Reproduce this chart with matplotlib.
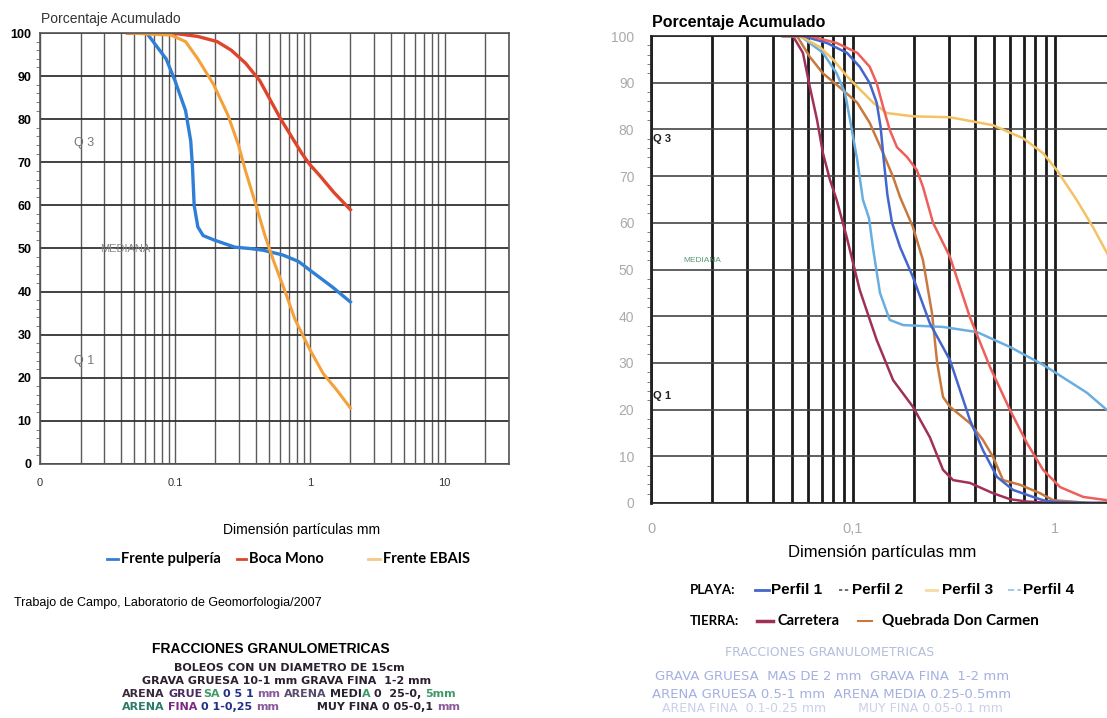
import matplotlib
matplotlib.use("Agg")
import matplotlib.pyplot as plt
from matplotlib.lines import Line2D
from matplotlib.ticker import LogLocator, MultipleLocator, NullFormatter

plt.rcParams['font.family'] = ['Liberation Sans', 'DejaVu Sans']

W, H = 1107, 718

# left chart: Frente pulperia / Boca Mono / Frente EBAIS  (mm, % acumulado)
pulperia_mm = [0.0457, 0.0618, 0.0861, 0.1, 0.120, 0.131, 0.135, 0.139, 0.148, 0.162, 0.194, 0.279, 0.36, 0.451, 0.63, 0.824, 1.0, 1.48, 2.0]
pulperia_pct = [100, 100, 94, 89, 82, 75, 69, 60, 55, 53, 52, 50.3, 50, 49.6, 48.5, 47, 45, 41, 37.6]
boca_mm = [0.0444, 0.106, 0.148, 0.206, 0.262, 0.334, 0.425, 0.509, 0.610, 0.731, 0.876, 1.0, 1.18, 1.51, 2.0]
boca_pct = [100, 99.8, 99.2, 98, 96, 93, 89, 84.5, 80, 76, 72, 69.5, 67, 63, 59]
ebais_mm = [0.0444, 0.094, 0.120, 0.148, 0.194, 0.247, 0.296, 0.334, 0.400, 0.465, 0.541, 0.648, 0.776, 1.0, 1.257, 1.60, 2.0]
ebais_pct = [100, 99.5, 98, 94, 88, 81, 74, 68, 60, 53, 47, 40.5, 33.6, 26.6, 21, 17, 13]

# right chart: playa perfiles + tierra
perfil1_mm = [0.045, 0.0565, 0.0743, 0.0933, 0.108, 0.121, 0.131, 0.137, 0.142, 0.148, 0.156, 0.171, 0.198, 0.240, 0.302, 0.379, 0.440, 0.516, 0.62, 0.778, 0.873, 1.0, 1.5, 2.0]
perfil1_pct = [100, 100, 98.5, 96.4, 93.4, 89.9, 85.7, 80.5, 73.4, 66, 60, 54.8, 48.4, 38.5, 30.6, 17.8, 11.3, 5.6, 2.8, 1.3, 0.6, 0.2, 0, 0]
perfil2_mm = [0.045, 0.0612, 0.083, 0.105, 0.121, 0.131, 0.141, 0.152, 0.165, 0.185, 0.207, 0.222, 0.249, 0.302, 0.379, 0.477, 0.599, 0.727, 0.873, 1.06, 1.38, 1.81, 2.2]
perfil2_pct = [100, 100, 98.5, 96.4, 93.4, 89.9, 84.8, 79.9, 76.2, 74.1, 71.3, 67.7, 60, 52.7, 39.8, 29.1, 19.9, 12.8, 7.1, 3.4, 1.3, 0.6, 0.3]
perfil3_mm = [0.045, 0.0548, 0.0687, 0.080, 0.0933, 0.108, 0.126, 0.147, 0.198, 0.302, 0.493, 0.695, 0.873, 1.02, 1.28, 1.54, 1.81, 2.0]
perfil3_pct = [100, 100, 97.6, 94.9, 91.4, 88.6, 85.7, 83.5, 82.8, 82.6, 80.9, 78.1, 74.9, 71.3, 64.9, 59.1, 53.5, 50]
perfil4_mm = [0.045, 0.0548, 0.071, 0.083, 0.0913, 0.0967, 0.105, 0.112, 0.120, 0.126, 0.136, 0.152, 0.177, 0.279, 0.411, 0.599, 0.873, 1.15, 1.44, 1.81, 2.0]
perfil4_pct = [100, 100, 96.4, 92, 87.8, 82, 73.4, 64.9, 61, 54.2, 45, 39.2, 38.1, 37.7, 36.6, 33.4, 29.6, 26.3, 23.6, 19.9, 18]
carretera_mm = [0.045, 0.0504, 0.0565, 0.0612, 0.0664, 0.071, 0.0769, 0.083, 0.093, 0.108, 0.131, 0.158, 0.198, 0.240, 0.279, 0.313, 0.379, 0.493, 0.6, 0.73, 1.0, 2.0]
carretera_pct = [100, 100, 96.4, 89, 82, 74.9, 69.2, 64.9, 57, 45.6, 34.9, 26.3, 20.6, 14.1, 7.1, 4.9, 4.3, 2.1, 0.8, 0.3, 0, 0]
quebrada_mm = [0.045, 0.0528, 0.0612, 0.071, 0.086, 0.105, 0.121, 0.141, 0.158, 0.171, 0.198, 0.222, 0.246, 0.261, 0.279, 0.302, 0.379, 0.440, 0.493, 0.553, 0.671, 0.843, 0.98, 1.5, 2.0]
quebrada_pct = [100, 100, 95.5, 92, 89, 85.7, 81.4, 74.9, 69.8, 65.5, 59.1, 52, 40.7, 30, 22.7, 20.6, 17.1, 13.5, 9.9, 4.9, 3.9, 2.1, 0.6, 0, 0]

y_ticks = [0, 10, 20, 30, 40, 50, 60, 70, 80, 90, 100]
left_xticks = [0.01, 0.1, 1, 10]
left_xlabels = ['0', '0.1', '1', '10']
right_xticks = [0.01, 0.1, 1]
right_xlabels = ['0', '0,1', '1']

c_pulperia, c_boca, c_ebais = '#2f7fd6', '#e0452b', '#f5a13a'
c_p1, c_p2, c_p3, c_p4 = '#4466cc', '#ee5f5b', '#f3c265', '#6aaee0'
c_carr, c_queb = '#a0305a', '#c8793f'

fig = plt.figure(figsize=(W / 100, H / 100), dpi=100)


def fx(x):
    return x / W


def fy(y):
    return 1 - y / H


def setup_log(ax, xmax, vcol, vlw, hcol, hlw):
    ax.set_xscale('log')
    ax.set_xlim(0.01, xmax)
    ax.set_ylim(0, 100)
    ax.xaxis.set_minor_locator(LogLocator(base=10, subs=range(2, 10), numticks=20))
    ax.xaxis.set_minor_formatter(NullFormatter())
    ax.set_yticks(y_ticks)
    ax.yaxis.set_minor_locator(MultipleLocator(2))
    ax.grid(True, which='both', axis='x', color=vcol, lw=vlw)
    ax.grid(True, which='major', axis='y', color=hcol, lw=hlw)
    ax.set_axisbelow(True)
    ax.tick_params(which='major', length=0)
    ax.tick_params(axis='x', which='minor', length=0)
    ax.tick_params(axis='y', which='minor', length=3, color='#666')


# ---------------- left chart
axL = fig.add_axes([fx(40), fy(464), 469 / W, 431 / H])
setup_log(axL, 30, '#5a5a5a', 1.0, '#333333', 1.3)
for s in axL.spines.values():
    s.set_color('#555555')
    s.set_lw(1.2)
axL.set_xticks(left_xticks)
axL.set_xticklabels(left_xlabels, fontsize=8, color='#333')
axL.set_yticklabels([str(v) for v in y_ticks], fontsize=9, fontweight='bold')
axL.tick_params(axis='x', pad=10)
axL.tick_params(axis='y', pad=6)
axL.plot(pulperia_mm, pulperia_pct, color=c_pulperia, lw=2.4)
axL.plot(boca_mm, boca_pct, color=c_boca, lw=2.4)
axL.plot(ebais_mm, ebais_pct, color=c_ebais, lw=2.2)
axL.text(0.0179, 74.5, 'Q 3', fontsize=9, color='#777', va='center')
axL.text(0.0427, 50, 'MEDIANA', fontsize=8, color='#888', va='center', ha='center')
axL.text(0.0179, 24, 'Q 1', fontsize=9, color='#777', va='center')
fig.text(fx(41), fy(19), 'Porcentaje Acumulado', fontsize=10, color='#333', va='center')

# ---------------- right chart (runs past the right edge of the picture)
axR = fig.add_axes([fx(651), fy(503), 606 / W, 467 / H])
setup_log(axR, 10, '#1a1a1a', 2.0, '#444444', 1.2)
for s in axR.spines.values():
    s.set_color('#222')
    s.set_lw(1.2)
axR.spines['left'].set_lw(2.0)
axR.set_xticks(right_xticks)
axR.set_xticklabels(right_xlabels, fontsize=10.5, color='#aaa')
axR.set_yticklabels([str(v) for v in y_ticks], fontsize=10, color='#aaa')
axR.tick_params(axis='x', pad=14)
axR.tick_params(axis='y', pad=12)
axR.plot(carretera_mm, carretera_pct, color=c_carr, lw=1.8)
axR.plot(quebrada_mm, quebrada_pct, color=c_queb, lw=1.8)
axR.plot(perfil4_mm, perfil4_pct, color=c_p4, lw=1.8)
axR.plot(perfil3_mm, perfil3_pct, color=c_p3, lw=1.8)
axR.plot(perfil1_mm, perfil1_pct, color=c_p1, lw=1.8)
axR.plot(perfil2_mm, perfil2_pct, color=c_p2, lw=1.8)
axR.text(0.0102, 78, 'Q 3', fontsize=8, fontweight='bold', color='#222', va='center')
axR.text(0.0102, 23, 'Q 1', fontsize=8, fontweight='bold', color='#222', va='center')
axR.text(0.018, 52, 'MEDIANA', fontsize=6, color='#5a9a70', va='center', ha='center')
fig.text(fx(652), fy(23), 'Porcentaje Acumulado', fontsize=11.5, fontweight='bold', va='center')


# ---------------- legends and notes
def legend_item(x0, x1, y, color, label, size, family=None, lw=2.0, gap=3, ls='-'):
    fig.add_artist(Line2D([fx(x0), fx(x1)], [fy(y), fy(y)], color=color, lw=lw, ls=ls))
    fig.text(fx(x1 + gap), fy(y), label, fontsize=size, fontweight='bold',
             va='center', ha='left', family=family)


def rich_line(cx, y, parts, size, family='DejaVu Sans'):
    r = fig.canvas.get_renderer()
    gap = 0.32 * size * 100 / 72
    objs = [fig.text(0, fy(y), s, color=c, fontsize=size, fontweight='bold', family=family,
                     va='center', ha='left') for s, c, sp in parts]
    widths = [t.get_window_extent(r).width for t in objs]
    total = sum(widths) + gap * sum(1 for p in parts[:-1] if p[2])
    x = cx - total / 2
    for t, w, p in zip(objs, widths, parts):
        t.set_x(fx(x))
        x += w + (gap if p[2] else 0)


fig.text(fx(302), fy(530), 'Dimensión partículas mm', fontsize=10, ha='center', va='center')
legend_item(107, 118, 559, c_pulperia, 'Frente pulpería', 10.5, family='Lato')
legend_item(237, 246, 559, c_boca, 'Boca Mono', 10.5, family='Lato')
legend_item(368, 380, 559, '#f7c88a', 'Frente EBAIS', 10.5, family='Lato')
fig.text(fx(14), fy(603), 'Trabajo de Campo, Laboratorio de Geomorfologia/2007', fontsize=9, va='center')
fig.text(fx(271), fy(649), 'FRACCIONES GRANULOMETRICAS', fontsize=10, fontweight='bold',
         ha='center', va='center')

dk, pu, gr, nv, tl = '#2a2030', '#4a2a60', '#3f9a6a', '#22308a', '#2a7a66'
rich_line(289, 668, [('BOLEOS CON UN DIAMETRO DE 15cm', dk, False)], 8)
rich_line(287, 681, [('GRAVA GRUESA 10-1 mm GRAVA FINA  1-2 mm', dk, False)], 8)
rich_line(289, 694, [('ARENA', '#3a2a40', True), ('GRUE', pu, False), ('SA', gr, True),
                     ('0 5 1', nv, True), ('mm', '#8a5a9a', True), ('ARENA', '#5a4a6a', True),
                     ('MEDI', dk, False), ('A', gr, True), ('0  25-0,', dk, True), ('5mm', gr, False)], 8)
rich_line(291, 707, [('ARENA', tl, True), ('FINA', '#7a2a80', True), ('0 1-0,25', nv, True),
                     ('mm', '#8a5a9a', True), ('         MUY FINA 0 05-0,1', dk, True),
                     ('mm', '#8a5a9a', False)], 8)

fig.text(fx(882), fy(552), 'Dimensión partículas mm', fontsize=12, ha='center', va='center')
fig.text(fx(690), fy(590), 'PLAYA:', fontsize=9.5, fontweight='bold', va='center', family='Lato')
legend_item(755, 769, 590, c_p1, 'Perfil 1', 11, lw=2.0, gap=2)
legend_item(839, 850, 590, '#555', 'Perfil 2', 11, lw=1.2, gap=2, ls=(0, (2, 1.5)))
legend_item(926, 937, 590, '#f6dca0', 'Perfil 3', 11, lw=2.0, gap=5)
legend_item(1008, 1021, 590, '#a8c8e8', 'Perfil 4', 11, lw=1.5, gap=2, ls=(0, (3, 1.5)))
fig.text(fx(690), fy(621), 'TIERRA:', fontsize=9.5, fontweight='bold', va='center', family='Lato')
legend_item(757, 773, 621, c_carr, 'Carretera', 10.5, family='Lato', lw=2.5, gap=5)
legend_item(858, 872, 621, c_queb, 'Quebrada Don Carmen', 11, family='Lato', lw=1.5, gap=10)

fig.text(fx(830), fy(653), 'FRACCIONES GRANULOMETRICAS', fontsize=9, color='#b4bedc',
         ha='center', va='center', family='DejaVu Sans')
fig.text(fx(832), fy(677), 'GRAVA GRUESA  MAS DE 2 mm  GRAVA FINA  1-2 mm', fontsize=9.5,
         color='#a4b0e0', ha='center', va='center', family='DejaVu Sans')
fig.text(fx(832), fy(695), 'ARENA GRUESA 0.5-1 mm  ARENA MEDIA 0.25-0.5mm', fontsize=9.5,
         color='#a4b0e0', ha='center', va='center', family='DejaVu Sans')
fig.text(fx(832), fy(709), 'ARENA FINA  0.1-0.25 mm        MUY FINA 0.05-0.1 mm', fontsize=9,
         color='#c8d0ea', ha='center', va='center', family='DejaVu Sans')

fig.savefig('out.png', dpi=100)
